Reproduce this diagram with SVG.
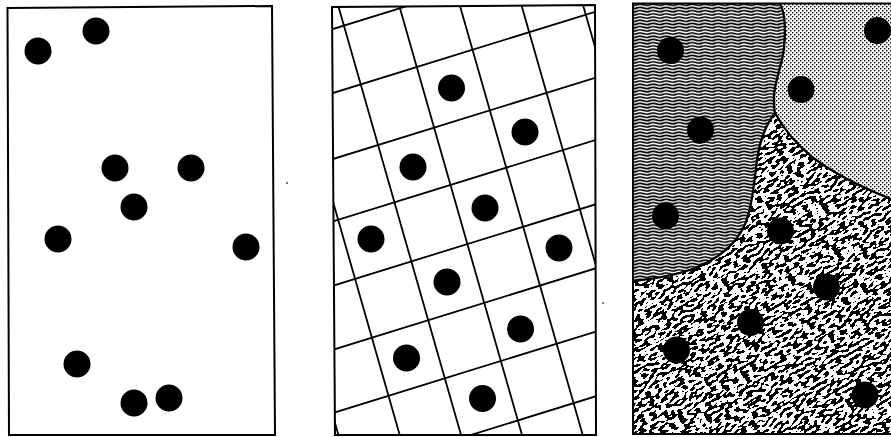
<svg xmlns="http://www.w3.org/2000/svg" width="891" height="437" viewBox="0 0 891 437">
  <style>
    .frame { fill: none; stroke: #000; stroke-width: 2; stroke-linejoin: miter; }
    .dot { fill: #000; }
    .grid line { stroke: #000; stroke-width: 1.8; }
    .bound { fill: none; stroke: #000; stroke-width: 2.3; }
    .speck { fill: #444; }
  </style>
  <defs>
    <pattern id="wavy" patternUnits="userSpaceOnUse" width="13" height="3.2">
      <rect width="13" height="3.2" fill="#fff"/>
      <path d="M-0.5,1.6 Q3.25,0.4 6.5,1.6 T13,1.6 T19.5,1.6" fill="none" stroke="#000" stroke-width="1.7"/>
    </pattern>
    <pattern id="dotted" patternUnits="userSpaceOnUse" width="4" height="4">
      <rect width="4" height="4" fill="#fff"/>
      <rect x="0" y="0" width="1.4" height="1.4" fill="#000"/>
      <rect x="2" y="2" width="1.4" height="1.4" fill="#000"/>
    </pattern>
    <filter id="maze" filterUnits="userSpaceOnUse" x="540" y="50" width="445" height="445" color-interpolation-filters="sRGB">
      <feTurbulence type="fractalNoise" baseFrequency="0.17 0.36" numOctaves="1" seed="11"/>
      <feColorMatrix type="matrix" values="0 0 0 0 0  0 0 0 0 0  0 0 0 0 0  1 0 0 0 -0.015"/>
      <feComponentTransfer>
        <feFuncA type="discrete" tableValues="0 1"/>
      </feComponentTransfer>
    </filter>
    <clipPath id="clip2">
      <polygon points="332,7 595,5 596,435 335,435"/>
    </clipPath>
    <clipPath id="clipMaze">
      <path d="M633,281 C652,279 675,276 695,268 C720,258 738,242 746,222 C752,205 754,185 757,160 C760,138 768,122 775,113 C782,126 795,143 812,157 C832,172 858,186 891,199 L891,434 L633,434 Z"/>
    </clipPath>
  </defs>

  <!-- Panel 1: random points -->
  <g id="panel-random">
    <polygon class="frame" points="7.5,8 272,6 275,435 9,435"/>
    <circle class="dot" cx="38" cy="51" r="13.5"/>
    <circle class="dot" cx="96" cy="31" r="13.5"/>
    <circle class="dot" cx="115" cy="168" r="13.5"/>
    <circle class="dot" cx="191" cy="168" r="13.5"/>
    <circle class="dot" cx="134" cy="207" r="13.5"/>
    <circle class="dot" cx="58" cy="239" r="13.5"/>
    <circle class="dot" cx="246" cy="247" r="13.5"/>
    <circle class="dot" cx="77" cy="364" r="13.5"/>
    <circle class="dot" cx="134" cy="403" r="13.5"/>
    <circle class="dot" cx="169" cy="398" r="13.5"/>
    <circle class="speck" cx="287" cy="183" r="1"/>
  </g>

  <!-- Panel 2: regular grid -->
  <g id="panel-grid">
    <rect x="332" y="5" width="264" height="431" fill="#fff"/>
    <g class="grid" clip-path="url(#clip2)">
      <line x1="215.7" y1="6" x2="339" y2="437"/>
      <line x1="277" y1="6" x2="400.3" y2="437"/>
      <line x1="338.3" y1="6" x2="461.6" y2="437"/>
      <line x1="399.3" y1="6" x2="522.6" y2="437"/>
      <line x1="460" y1="6" x2="583.3" y2="437"/>
      <line x1="521.7" y1="6" x2="645" y2="437"/>
      <line x1="583.3" y1="6" x2="706.6" y2="437"/>
      <line x1="332" y1="29.3" x2="596" y2="-52.5"/>
      <line x1="332" y1="93.3" x2="596" y2="11.5"/>
      <line x1="332" y1="159.3" x2="596" y2="77.5"/>
      <line x1="332" y1="221.7" x2="596" y2="139.9"/>
      <line x1="332" y1="286" x2="596" y2="204.2"/>
      <line x1="332" y1="350" x2="596" y2="268.2"/>
      <line x1="332" y1="413.3" x2="596" y2="331.5"/>
      <line x1="332" y1="478" x2="596" y2="396.2"/>
    </g>
    <polygon class="frame" points="332,7 595,5 596,435 335,435"/>
    <circle class="dot" cx="451.5" cy="88" r="13.5"/>
    <circle class="dot" cx="525" cy="132" r="13.5"/>
    <circle class="dot" cx="413" cy="167" r="13.5"/>
    <circle class="dot" cx="485" cy="208" r="13.5"/>
    <circle class="dot" cx="371" cy="239" r="13.5"/>
    <circle class="dot" cx="559" cy="248" r="13.5"/>
    <circle class="dot" cx="447" cy="282" r="13.5"/>
    <circle class="dot" cx="520.5" cy="329" r="13.5"/>
    <circle class="dot" cx="406.5" cy="358" r="13.5"/>
    <circle class="dot" cx="482.5" cy="398.5" r="13.5"/>
    <circle class="speck" cx="603" cy="303" r="0.9"/>
  </g>

  <!-- Panel 3: textured regions -->
  <g id="panel-regions">
    <path id="region-wavy" fill="url(#wavy)" d="M633,4 L780,4 C785,12 786,30 784,48 C782,66 775,80 774,96 C774,104 774,110 775,113 C768,122 760,138 757,160 C754,185 752,205 746,222 C738,242 720,258 695,268 C675,276 652,279 633,281 Z"/>
    <path id="region-dotted" fill="url(#dotted)" d="M780,4 L891,4 L891,199 C858,186 832,172 812,157 C795,143 782,126 775,113 C774,110 774,104 774,96 C775,80 782,66 784,48 C786,30 785,12 780,4 Z"/>
    <g id="region-maze" clip-path="url(#clipMaze)">
      <rect x="633" y="100" width="258" height="335" fill="#fff"/>
      <rect x="540" y="50" width="445" height="445" fill="#fff" filter="url(#maze)" transform="rotate(-30 762 273)"/>
    </g>
    <path class="bound" d="M780,4 C785,12 786,30 784,48 C782,66 775,80 774,96 C774,104 774,110 775,113"/>
    <path class="bound" d="M775,113 C768,122 760,138 757,160 C754,185 752,205 746,222 C738,242 720,258 695,268 C675,276 652,279 633,281"/>
    <path class="bound" d="M775,113 C782,126 795,143 812,157 C832,172 858,186 891,199"/>
    <path class="frame" stroke-width="2.5" d="M891,3.5 L633,3.5 L633,434 L891,434"/>
    <circle class="dot" cx="670.5" cy="50.5" r="13.5"/>
    <circle class="dot" cx="877.5" cy="30.5" r="13.5"/>
    <circle class="dot" cx="801" cy="89.5" r="13.5"/>
    <circle class="dot" cx="700.5" cy="130" r="13.5"/>
    <circle class="dot" cx="665.5" cy="216" r="13.5"/>
    <circle class="dot" cx="780.5" cy="231" r="13.5"/>
    <circle class="dot" cx="826.5" cy="287" r="13.5"/>
    <circle class="dot" cx="750.5" cy="322.5" r="13.5"/>
    <circle class="dot" cx="676.5" cy="350" r="13.5"/>
    <circle class="dot" cx="865" cy="395" r="13.5"/>
  </g>
</svg>
